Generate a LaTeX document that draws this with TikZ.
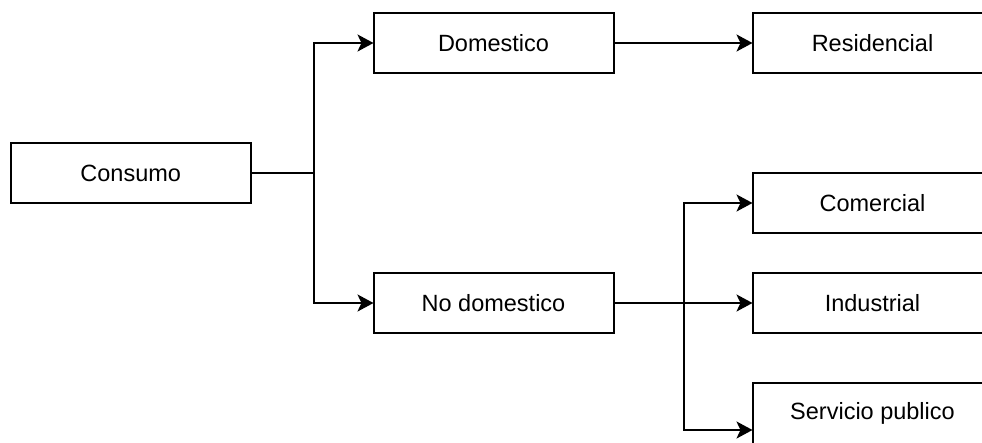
\documentclass[tikz,border=0pt]{standalone}
\usepackage{fontspec}
\setmainfont{Liberation Sans}
\usetikzlibrary{arrows.meta}
\begin{document}
\begin{tikzpicture}[x=1pt,y=-1pt,
  box/.style={draw=black, line width=2pt, fill=white, minimum width=240pt,
    minimum height=60pt, inner sep=0pt, outer sep=0pt,
    font=\fontsize{23.5}{28}\selectfont},
  boxtext/.style={inner sep=0pt, font=\fontsize{23.5}{28}\selectfont},
  arr/.style={draw=black, line width=2pt,
    -{Stealth[length=16pt, width=17pt, inset=4pt]}},
  link/.style={draw=black, line width=2pt}]
  \useasboundingbox (0,0) rectangle (982,442);
  \clip (0,0) rectangle (982,442);

  % first level
  \node[box] (consumo) at (130.75,173) {Consumo};
  % second level
  \node[box] (dom) at (493.5,43) {Domestico};
  \node[box] (nodom) at (493.5,303) {No domestico};
  % third level
  \node[box] (res) at (872.5,43) {Residencial};
  \node[box] (com) at (872.5,203) {Comercial};
  \node[box] (ind) at (872.5,303) {Industrial};
  % tall box, its caption set near the top
  \node[box, minimum height=94pt] (serv) at (872.5,430) {};
  \node[boxtext] (servtxt) at (872.5,413) {Servicio publico};

  % branch points
  \coordinate (j1) at (313.5,173);
  \coordinate (j2) at (684,303);

  % connectors
  \draw[link] (consumo.east) -- (j1);
  \draw[arr] (j1) |- (dom.west);
  \draw[arr] (j1) |- (nodom.west);
  \draw[arr] (dom.east) -- (res.west);
  \draw[arr] (nodom.east) -- (ind.west);
  \draw[arr] (j2) |- (com.west);
  \draw[arr] (j2) |- (serv.west);
\end{tikzpicture}
\end{document}
